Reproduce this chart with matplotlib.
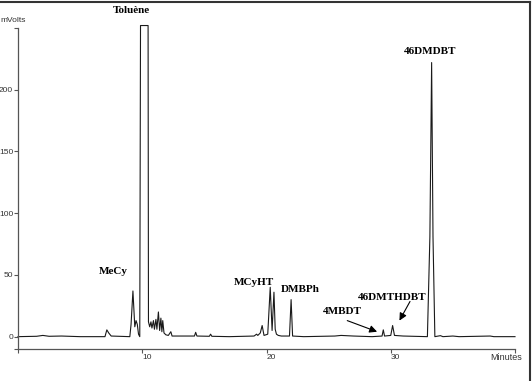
import matplotlib
matplotlib.use("Agg")
import matplotlib.pyplot as plt
from matplotlib.lines import Line2D

# chromatogram trace, vertices (minutes, mVolts)
time_min = [0.0, 1.5, 2.0, 2.5, 3.5, 5.0, 7.0, 7.15, 7.3, 7.5,
            9.0, 9.1, 9.25, 9.4, 9.5, 9.6, 9.7, 9.8,
            9.86, 10.47, 10.5, 10.6, 10.7, 10.78, 10.9, 10.98, 11.1, 11.18,
            11.3, 11.4, 11.5, 11.58, 11.65, 11.75, 11.9, 12.1, 12.3, 12.4,
            13.0, 14.2, 14.3, 14.4, 15.4, 15.5, 15.6, 17.0,
            19.0, 19.2, 19.3, 19.5, 19.65, 19.8, 20.1, 20.3, 20.45, 20.6,
            20.7, 20.8, 20.95, 21.2, 21.85, 21.98, 22.1, 23.0,
            25.5, 26.0, 27.0, 28.5, 29.3, 29.4, 29.5, 30.0, 30.15, 30.3, 31.0,
            32.95, 33.15, 33.29, 33.4, 33.55, 34.0, 34.2, 35.0, 35.5, 38.0, 38.3, 40.0]
signal_mv = [0.0, 0.3, 1.0, 0.3, 0.5, 0.0, 0.0, 5.5, 3.0, 0.5,
             0.0, 10.0, 37.0, 8.0, 13.0, 10.0, 2.0, 0.0,
             252.0, 252.0, 12.0, 8.0, 12.0, 7.0, 13.0, 6.0, 14.0, 6.0,
             20.0, 5.0, 15.0, 4.0, 13.0, 3.0, 1.5, 1.0, 4.0, 0.5,
             0.5, 0.5, 3.5, 0.5, 0.3, 2.0, 0.3, 0.0,
             0.5, 2.0, 1.0, 3.0, 9.0, 1.0, 2.0, 40.0, 5.0, 36.0,
             6.0, 2.0, 1.0, 0.5, 0.5, 30.0, 0.5, 0.0,
             0.5, 1.0, 0.5, 0.0, 0.5, 5.5, 0.5, 1.0, 9.0, 1.0, 0.5,
             0.0, 81.0, 222.0, 81.0, 0.0, 0.8, 0.0, 0.5, 0.0, 0.5, 0.0, 0.0]

x_ticks = [0, 10, 20, 30, 40]
x_tick_labels = ["", "10", "20", "30", ""]
y_ticks = [-10, 0, 50, 100, 150, 200, 250]
y_tick_labels = ["", "0", "50", "100", "150", "200", ""]

# peak labels: text, text position (min, mV)
peak_names = ["Toluène", "MeCy", "MCyHT", "DMBPh", "46DMDBT"]
peak_label_x = [9.1, 7.65, 19.0, 22.7, 33.2]
peak_label_y = [264, 52.5, 44, 38.5, 231]

# labels with arrows: text pos, arrow start, arrow tip
arrow_names = ["4MBDT", "46DMTHDBT"]
arrow_text_xy = [(26.1, 20), (30.15, 32)]
arrow_start = [(26.5, 13), (31.55, 28.5)]
arrow_tip = [(28.9, 4), (30.7, 13)]

W, H = 532, 381
fig = plt.figure(figsize=(W / 100, H / 100), dpi=100)
ax = fig.add_axes([18 / W, 32 / H, (515 - 18) / W, (349 - 28) / H])

ax.plot(time_min, signal_mv, color="#1a1a1a", lw=0.8, clip_on=False)
ax.set_xlim(0, 40)
ax.set_ylim(-10, 250)

for s in ["top", "right"]:
    ax.spines[s].set_visible(False)
for s in ["left", "bottom"]:
    ax.spines[s].set_color("#555555")
    ax.spines[s].set_linewidth(0.9)

ax.set_xticks(x_ticks)
ax.set_xticklabels(x_tick_labels, fontsize=6, family="Liberation Sans", ha="left")
ax.set_yticks(y_ticks)
ax.set_yticklabels(y_tick_labels, fontsize=6, family="Liberation Sans")
ax.tick_params(axis="both", direction="out", length=3, width=0.8, color="#555555",
               labelcolor="#333333", pad=0.5)

fig.text(0.5 / W, 1 - 20 / H, "mVolts", fontsize=6, family="Liberation Sans",
         color="#333333", ha="left", va="center")
ax.text(40.6, -13, "Minutes", fontsize=6.5, family="Liberation Sans", color="#333333",
        ha="right", va="top")

for name, lx, ly in zip(peak_names, peak_label_x, peak_label_y):
    ax.text(lx, ly, name, fontsize=8, family="Liberation Serif", weight="bold",
            ha="center", va="center", clip_on=False)

for name, txy, a0, a1 in zip(arrow_names, arrow_text_xy, arrow_start, arrow_tip):
    ax.text(txy[0], txy[1], name, fontsize=8, family="Liberation Serif", weight="bold",
            ha="center", va="center")
    ax.annotate("", xy=a1, xytext=a0,
                arrowprops=dict(arrowstyle="-|>", color="black", lw=0.8,
                                mutation_scale=11, shrinkA=0, shrinkB=0))

# partial frame around the picture (top and right edges)
fig.add_artist(Line2D([0, 530 / W], [1 - 2 / H, 1 - 2 / H], color="#333333", lw=1.5,
                      transform=fig.transFigure))
fig.add_artist(Line2D([530 / W, 530 / W], [0, 1 - 2 / H], color="#333333", lw=1.5,
                      transform=fig.transFigure))

fig.savefig("out.png", dpi=100)
